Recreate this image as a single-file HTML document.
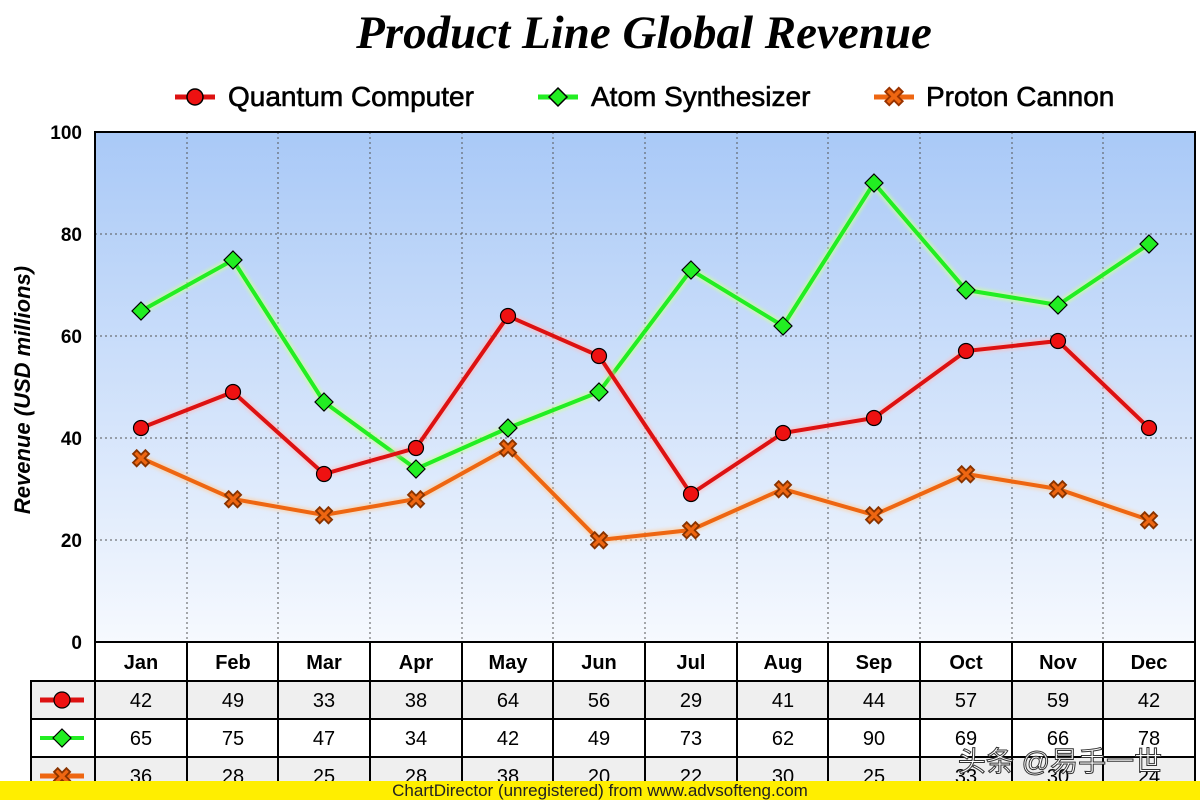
<!DOCTYPE html>
<html><head><meta charset="utf-8"><style>
body{margin:0;background:#fff;}
svg text{font-family:"Liberation Sans","Noto Sans CJK SC",sans-serif;}
</style></head><body>
<svg width="1200" height="800" xmlns="http://www.w3.org/2000/svg">
<defs>
<linearGradient id="bg" x1="0" y1="0" x2="0" y2="1">
<stop offset="0" stop-color="#a9c9f7"/><stop offset="1" stop-color="#f6f9fe"/>
</linearGradient>
<filter id="glow"><feGaussianBlur stdDeviation="1.5"/></filter>
</defs>
<text x="644" y="48" text-anchor="middle" font-style="italic" font-weight="bold" font-size="47" style="font-family:'Liberation Serif',serif">Product Line Global Revenue</text>
<!-- legend -->
<g font-size="28">
<line x1="175" y1="97" x2="215" y2="97" stroke="#dd1111" stroke-width="5"/><circle cx="195" cy="97" r="8" fill="#ee1111" stroke="#000" stroke-width="1.5"/>
<text x="228" y="106" stroke="#000" stroke-width="0.6">Quantum Computer</text>
<line x1="538" y1="97" x2="578" y2="97" stroke="#22ee22" stroke-width="5"/><polygon points="558,88 567,97 558,106 549,97" fill="#22ee22" stroke="#000" stroke-width="1.5"/>
<text x="591" y="106" stroke="#000" stroke-width="0.6">Atom Synthesizer</text>
<line x1="874" y1="97" x2="914" y2="97" stroke="#ee6611" stroke-width="5"/><text x="894" y="106" text-anchor="middle" font-size="26" font-weight="bold" fill="#ee6611" stroke="#993300" stroke-width="1">✖</text>
<text x="926" y="106" stroke="#000" stroke-width="0.6">Proton Cannon</text>
</g>
<rect x="95" y="132" width="1100" height="510" fill="url(#bg)"/>
<g stroke="#555" stroke-width="1" stroke-dasharray="2,3">
<line x1="95" y1="234" x2="1195" y2="234"/><line x1="95" y1="336" x2="1195" y2="336"/><line x1="95" y1="438" x2="1195" y2="438"/><line x1="95" y1="540" x2="1195" y2="540"/>
<line x1="187" y1="132" x2="187" y2="642"/><line x1="278" y1="132" x2="278" y2="642"/><line x1="370" y1="132" x2="370" y2="642"/><line x1="462" y1="132" x2="462" y2="642"/><line x1="553" y1="132" x2="553" y2="642"/><line x1="645" y1="132" x2="645" y2="642"/><line x1="737" y1="132" x2="737" y2="642"/><line x1="828" y1="132" x2="828" y2="642"/><line x1="920" y1="132" x2="920" y2="642"/><line x1="1012" y1="132" x2="1012" y2="642"/><line x1="1103" y1="132" x2="1103" y2="642"/>
</g>
<rect x="95" y="132" width="1100" height="510" fill="none" stroke="#000" stroke-width="2"/>
<g font-size="19" font-weight="bold" text-anchor="end">
<text x="82" y="139">100</text><text x="82" y="241">80</text><text x="82" y="343">60</text><text x="82" y="445">40</text><text x="82" y="547">20</text><text x="82" y="649">0</text>
</g>
<text transform="translate(30,390) rotate(-90)" text-anchor="middle" font-size="22" font-weight="bold" font-style="italic">Revenue (USD millions)</text>
<!-- series -->
<polyline fill="none" stroke="#ccff99" stroke-width="8" opacity="0.7" filter="url(#glow)" points="141,311 233,260 324,402 416,469 508,428 599,392 691,270 783,326 874,183 966,290 1058,305 1149,244"/>
<polyline fill="none" stroke="#22ee22" stroke-width="4" points="141,311 233,260 324,402 416,469 508,428 599,392 691,270 783,326 874,183 966,290 1058,305 1149,244"/>
<polyline fill="none" stroke="#ffcc99" stroke-width="8" opacity="0.6" filter="url(#glow)" points="141,458 233,499 324,515 416,499 508,448 599,540 691,530 783,489 874,515 966,474 1058,489 1149,520"/>
<polyline fill="none" stroke="#ee6611" stroke-width="4" points="141,458 233,499 324,515 416,499 508,448 599,540 691,530 783,489 874,515 966,474 1058,489 1149,520"/>
<polyline fill="none" stroke="#ffbbbb" stroke-width="8" opacity="0.6" filter="url(#glow)" points="141,428 233,392 324,474 416,448 508,316 599,356 691,494 783,433 874,418 966,351 1058,341 1149,428"/>
<polyline fill="none" stroke="#dd1111" stroke-width="4" points="141,428 233,392 324,474 416,448 508,316 599,356 691,494 783,433 874,418 966,351 1058,341 1149,428"/>
<g fill="#22ee22" stroke="#000" stroke-width="1.2">
<polygon points="141,302 150,311 141,320 132,311"/><polygon points="233,251 242,260 233,269 224,260"/><polygon points="324,393 333,402 324,411 315,402"/><polygon points="416,460 425,469 416,478 407,469"/><polygon points="508,419 517,428 508,437 499,428"/><polygon points="599,383 608,392 599,401 590,392"/><polygon points="691,261 700,270 691,279 682,270"/><polygon points="783,317 792,326 783,335 774,326"/><polygon points="874,174 883,183 874,192 865,183"/><polygon points="966,281 975,290 966,299 957,290"/><polygon points="1058,296 1067,305 1058,314 1049,305"/><polygon points="1149,235 1158,244 1149,253 1140,244"/>
</g>
<g font-size="24" font-weight="bold" fill="#ee6611" stroke="#883300" stroke-width="1" text-anchor="middle">
<text x="141" y="467">✖</text><text x="233" y="508">✖</text><text x="324" y="524">✖</text><text x="416" y="508">✖</text><text x="508" y="457">✖</text><text x="599" y="549">✖</text><text x="691" y="539">✖</text><text x="783" y="498">✖</text><text x="874" y="524">✖</text><text x="966" y="483">✖</text><text x="1058" y="498">✖</text><text x="1149" y="529">✖</text>
</g>
<g fill="#ee1111" stroke="#000" stroke-width="1.2">
<circle cx="141" cy="428" r="7.5"/><circle cx="233" cy="392" r="7.5"/><circle cx="324" cy="474" r="7.5"/><circle cx="416" cy="448" r="7.5"/><circle cx="508" cy="316" r="7.5"/><circle cx="599" cy="356" r="7.5"/><circle cx="691" cy="494" r="7.5"/><circle cx="783" cy="433" r="7.5"/><circle cx="874" cy="418" r="7.5"/><circle cx="966" cy="351" r="7.5"/><circle cx="1058" cy="341" r="7.5"/><circle cx="1149" cy="428" r="7.5"/>
</g>
<!-- table -->
<rect x="31" y="681" width="1164" height="38" fill="#efefef"/>
<rect x="31" y="757" width="1164" height="40" fill="#efefef"/>
<g stroke="#000" stroke-width="2" fill="none">
<rect x="95" y="642" width="1100" height="160"/>
<rect x="31" y="681" width="64" height="120"/>
<line x1="31" y1="681" x2="1195" y2="681"/><line x1="31" y1="719" x2="1195" y2="719"/><line x1="31" y1="757" x2="1195" y2="757"/>
<line x1="187" y1="642" x2="187" y2="800"/><line x1="278" y1="642" x2="278" y2="800"/><line x1="370" y1="642" x2="370" y2="800"/><line x1="462" y1="642" x2="462" y2="800"/><line x1="553" y1="642" x2="553" y2="800"/><line x1="645" y1="642" x2="645" y2="800"/><line x1="737" y1="642" x2="737" y2="800"/><line x1="828" y1="642" x2="828" y2="800"/><line x1="920" y1="642" x2="920" y2="800"/><line x1="1012" y1="642" x2="1012" y2="800"/><line x1="1103" y1="642" x2="1103" y2="800"/>
</g>
<g font-size="20" text-anchor="middle">
<g font-weight="bold"><text x="141" y="669">Jan</text><text x="233" y="669">Feb</text><text x="324" y="669">Mar</text><text x="416" y="669">Apr</text><text x="508" y="669">May</text><text x="599" y="669">Jun</text><text x="691" y="669">Jul</text><text x="783" y="669">Aug</text><text x="874" y="669">Sep</text><text x="966" y="669">Oct</text><text x="1058" y="669">Nov</text><text x="1149" y="669">Dec</text></g>
<g><text x="141" y="707">42</text><text x="233" y="707">49</text><text x="324" y="707">33</text><text x="416" y="707">38</text><text x="508" y="707">64</text><text x="599" y="707">56</text><text x="691" y="707">29</text><text x="783" y="707">41</text><text x="874" y="707">44</text><text x="966" y="707">57</text><text x="1058" y="707">59</text><text x="1149" y="707">42</text></g>
<g><text x="141" y="745">65</text><text x="233" y="745">75</text><text x="324" y="745">47</text><text x="416" y="745">34</text><text x="508" y="745">42</text><text x="599" y="745">49</text><text x="691" y="745">73</text><text x="783" y="745">62</text><text x="874" y="745">90</text><text x="966" y="745">69</text><text x="1058" y="745">66</text><text x="1149" y="745">78</text></g>
<g><text x="141" y="783">36</text><text x="233" y="783">28</text><text x="324" y="783">25</text><text x="416" y="783">28</text><text x="508" y="783">38</text><text x="599" y="783">20</text><text x="691" y="783">22</text><text x="783" y="783">30</text><text x="874" y="783">25</text><text x="966" y="783">33</text><text x="1058" y="783">30</text><text x="1149" y="783">24</text></g>
</g>
<line x1="40" y1="700" x2="84" y2="700" stroke="#dd1111" stroke-width="5"/><circle cx="62" cy="700" r="8" fill="#ee1111" stroke="#000" stroke-width="1.2"/>
<line x1="40" y1="738" x2="84" y2="738" stroke="#22ee22" stroke-width="4"/><polygon points="62,729 71,738 62,747 53,738" fill="#22ee22" stroke="#000" stroke-width="1.2"/>
<line x1="40" y1="776" x2="84" y2="776" stroke="#ee6611" stroke-width="5"/><text x="62" y="785" text-anchor="middle" font-size="24" font-weight="bold" fill="#ee6611" stroke="#883300">✖</text>
<text x="1060" y="771" text-anchor="middle" font-size="28" fill="#fff" stroke="#333" stroke-width="1">头条 @易手一世</text>
<rect x="0" y="781" width="1200" height="19" fill="#ffee00"/>
<text x="600" y="796" text-anchor="middle" font-size="17" fill="#222">ChartDirector (unregistered) from www.advsofteng.com</text>
</svg>
</body></html>
